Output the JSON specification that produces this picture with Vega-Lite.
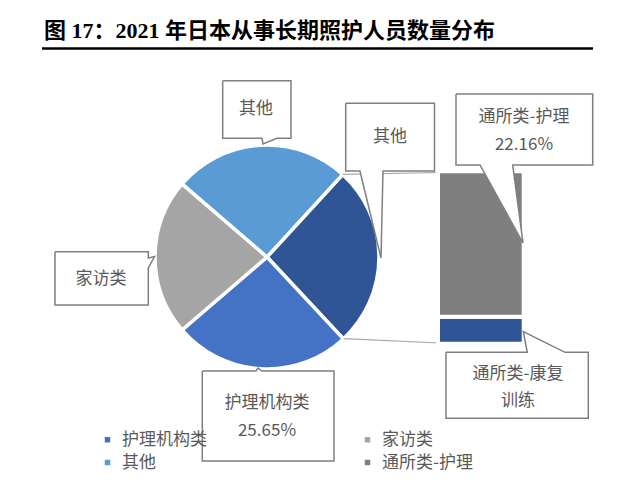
{
  "$schema": "https://vega.github.io/schema/vega-lite/v6.json",
  "width": 618,
  "height": 487,
  "padding": 0,
  "autosize": {"type": "none"},
  "background": "white",
  "config": {"view": {"stroke": null}},
  "datasets": {
    "slices": [
      {"key": "通所类", "pct": 26.25, "ord": 0},
      {"key": "护理机构类", "pct": 25.65, "ord": 1},
      {"key": "家访类", "pct": 22.6, "ord": 2},
      {"key": "其他", "pct": 25.5, "ord": 3}
    ],
    "bar": [
      {"key": "通所类-康复训练", "lo": 0, "hi": 4.09},
      {"key": "通所类-护理", "lo": 4.09, "hi": 26.25}
    ],
    "links": [
      {"x": 342.7, "y": 174.4, "x2": 440, "y2": 172.5},
      {"x": 343.7, "y": 338.6, "x2": 440, "y2": 343}
    ],
    "callouts": [
      {"id": "a", "i": 0, "x": 222.7, "y": 80.7},
      {"id": "a", "i": 1, "x": 291, "y": 80.7},
      {"id": "a", "i": 2, "x": 291, "y": 138.3},
      {"id": "a", "i": 3, "x": 277, "y": 138.3},
      {"id": "a", "i": 4, "x": 263, "y": 144},
      {"id": "a", "i": 5, "x": 262, "y": 138.3},
      {"id": "a", "i": 6, "x": 222.7, "y": 138.3},
      {"id": "a", "i": 7, "x": 222.7, "y": 80.7},
      {"id": "b", "i": 0, "x": 345.7, "y": 103.3},
      {"id": "b", "i": 1, "x": 434.5, "y": 103.3},
      {"id": "b", "i": 2, "x": 434.5, "y": 171},
      {"id": "b", "i": 3, "x": 383, "y": 171},
      {"id": "b", "i": 4, "x": 381, "y": 258},
      {"id": "b", "i": 5, "x": 360, "y": 171},
      {"id": "b", "i": 6, "x": 345.7, "y": 171},
      {"id": "b", "i": 7, "x": 345.7, "y": 103.3},
      {"id": "c", "i": 0, "x": 55, "y": 251.7},
      {"id": "c", "i": 1, "x": 148.3, "y": 251.7},
      {"id": "c", "i": 2, "x": 148.3, "y": 258},
      {"id": "c", "i": 3, "x": 154.5, "y": 256.5},
      {"id": "c", "i": 4, "x": 148.3, "y": 268},
      {"id": "c", "i": 5, "x": 148.3, "y": 305},
      {"id": "c", "i": 6, "x": 55, "y": 305},
      {"id": "c", "i": 7, "x": 55, "y": 251.7},
      {"id": "d", "i": 0, "x": 202.3, "y": 371},
      {"id": "d", "i": 1, "x": 256, "y": 371},
      {"id": "d", "i": 2, "x": 258, "y": 368},
      {"id": "d", "i": 3, "x": 262, "y": 371},
      {"id": "d", "i": 4, "x": 334, "y": 371},
      {"id": "d", "i": 5, "x": 334, "y": 461},
      {"id": "d", "i": 6, "x": 202.3, "y": 461},
      {"id": "d", "i": 7, "x": 202.3, "y": 371},
      {"id": "e", "i": 0, "x": 456, "y": 94},
      {"id": "e", "i": 1, "x": 592.7, "y": 94},
      {"id": "e", "i": 2, "x": 592.7, "y": 165},
      {"id": "e", "i": 3, "x": 512.7, "y": 165},
      {"id": "e", "i": 4, "x": 523, "y": 243},
      {"id": "e", "i": 5, "x": 480, "y": 165},
      {"id": "e", "i": 6, "x": 456, "y": 165},
      {"id": "e", "i": 7, "x": 456, "y": 94},
      {"id": "f", "i": 0, "x": 446, "y": 352.3},
      {"id": "f", "i": 1, "x": 527.3, "y": 352.3},
      {"id": "f", "i": 2, "x": 523.3, "y": 331.7},
      {"id": "f", "i": 3, "x": 565, "y": 352.3},
      {"id": "f", "i": 4, "x": 588.3, "y": 352.3},
      {"id": "f", "i": 5, "x": 588.3, "y": 418.3},
      {"id": "f", "i": 6, "x": 446, "y": 418.3},
      {"id": "f", "i": 7, "x": 446, "y": 352.3}
    ],
    "labels": [
      {"x": 256, "y": 109, "t": "其他"},
      {"x": 390, "y": 137, "t": "其他"},
      {"x": 101, "y": 279, "t": "家访类"},
      {"x": 267, "y": 403, "t": "护理机构类"},
      {"x": 267, "y": 431, "t": "25.65%"},
      {"x": 524, "y": 117, "t": "通所类-护理"},
      {"x": 524, "y": 145, "t": "22.16%"},
      {"x": 518, "y": 374, "t": "通所类-康复"},
      {"x": 518, "y": 401, "t": "训练"}
    ],
    "title": [
      {"x": 44, "y": 31, "t": "图 17：2021 年日本从事长期照护人员数量分布"}
    ],
    "underline": [
      {"x": 42, "x2": 593, "y": 48.5}
    ]
  },
  "resolve": {"scale": {"y": "independent"}},
  "layer": [
    {
      "data": {"name": "slices"},
      "mark": {"type": "arc", "outerRadius": 112, "stroke": "white", "strokeWidth": 3.5},
      "encoding": {
        "x": {"datum": 267, "type": "quantitative", "scale": {"domain": [0, 618], "nice": false, "zero": false}, "axis": null},
        "y": {"datum": 257, "type": "quantitative", "scale": {"domain": [0, 487], "nice": false, "zero": false, "reverse": true}, "axis": null},
        "theta": {"field": "pct", "type": "quantitative", "stack": true, "scale": {"range": [0.742, 7.0252]}},
        "order": {"field": "ord", "type": "quantitative"},
        "color": {
          "field": "key",
          "type": "nominal",
          "scale": {
            "domain": ["护理机构类", "家访类", "其他", "通所类-护理", "通所类-康复训练", "通所类"],
            "range": ["#4472C4", "#A5A5A5", "#5B9BD5", "#7F7F7F", "#2F5597", "#2F5597"]
          },
          "legend": {
            "values": ["护理机构类", "家访类", "其他", "通所类-护理"],
            "title": null,
            "orient": "none",
            "legendX": 99,
            "legendY": 431,
            "direction": "horizontal",
            "columns": 2,
            "columnPadding": 152,
            "rowPadding": 5,
            "padding": 0,
            "symbolType": "square",
            "symbolSize": 30,
            "symbolStrokeWidth": 0,
            "labelFont": "Noto Sans CJK SC",
            "labelFontSize": 17,
            "labelColor": "#595959",
            "labelOffset": 6
          }
        }
      }
    },
    {
      "data": {"name": "links"},
      "mark": {"type": "rule", "stroke": "#A6A6A6", "strokeWidth": 1.2},
      "encoding": {
        "x": {"field": "x", "type": "quantitative", "scale": {"domain": [0, 618], "nice": false, "zero": false}, "axis": null},
        "y": {"field": "y", "type": "quantitative", "scale": {"domain": [0, 487], "nice": false, "zero": false, "reverse": true}, "axis": null},
        "x2": {"field": "x2"},
        "y2": {"field": "y2"}
      }
    },
    {
      "data": {"name": "bar"},
      "mark": {"type": "rect", "stroke": "white", "strokeWidth": 4},
      "encoding": {
        "x": {"datum": 438, "type": "quantitative", "scale": {"domain": [0, 618], "nice": false, "zero": false}, "axis": null},
        "x2": {"datum": 523.7},
        "y": {"field": "lo", "type": "quantitative", "scale": {"domain": [-21.82, 52.33], "nice": false, "zero": false}, "axis": null},
        "y2": {"field": "hi"},
        "color": {"field": "key", "type": "nominal"}
      }
    },
    {
      "data": {"name": "callouts"},
      "mark": {"type": "line", "fill": "white", "stroke": "#7F7F7F", "strokeWidth": 1.5, "interpolate": "linear"},
      "encoding": {
        "x": {"field": "x", "type": "quantitative", "scale": {"domain": [0, 618], "nice": false, "zero": false}, "axis": null},
        "y": {"field": "y", "type": "quantitative", "scale": {"domain": [0, 487], "nice": false, "zero": false, "reverse": true}, "axis": null},
        "detail": {"field": "id", "type": "nominal"},
        "order": {"field": "i", "type": "quantitative"}
      }
    },
    {
      "data": {"name": "labels"},
      "mark": {"type": "text", "font": "Noto Sans CJK SC", "fontSize": 17, "color": "#595959", "align": "center", "baseline": "middle"},
      "encoding": {
        "x": {"field": "x", "type": "quantitative", "scale": {"domain": [0, 618], "nice": false, "zero": false}, "axis": null},
        "y": {"field": "y", "type": "quantitative", "scale": {"domain": [0, 487], "nice": false, "zero": false, "reverse": true}, "axis": null},
        "text": {"field": "t"}
      }
    },
    {
      "data": {"name": "title"},
      "mark": {"type": "text", "font": "Liberation Serif, Noto Sans CJK SC", "fontSize": 22, "fontWeight": "bold", "color": "black", "align": "left", "baseline": "middle"},
      "encoding": {
        "x": {"field": "x", "type": "quantitative", "scale": {"domain": [0, 618], "nice": false, "zero": false}, "axis": null},
        "y": {"field": "y", "type": "quantitative", "scale": {"domain": [0, 487], "nice": false, "zero": false, "reverse": true}, "axis": null},
        "text": {"field": "t"}
      }
    },
    {
      "data": {"name": "underline"},
      "mark": {"type": "rule", "stroke": "black", "strokeWidth": 2.5},
      "encoding": {
        "x": {"field": "x", "type": "quantitative", "scale": {"domain": [0, 618], "nice": false, "zero": false}, "axis": null},
        "x2": {"field": "x2"},
        "y": {"field": "y", "type": "quantitative", "scale": {"domain": [0, 487], "nice": false, "zero": false, "reverse": true}, "axis": null}
      }
    }
  ]
}
